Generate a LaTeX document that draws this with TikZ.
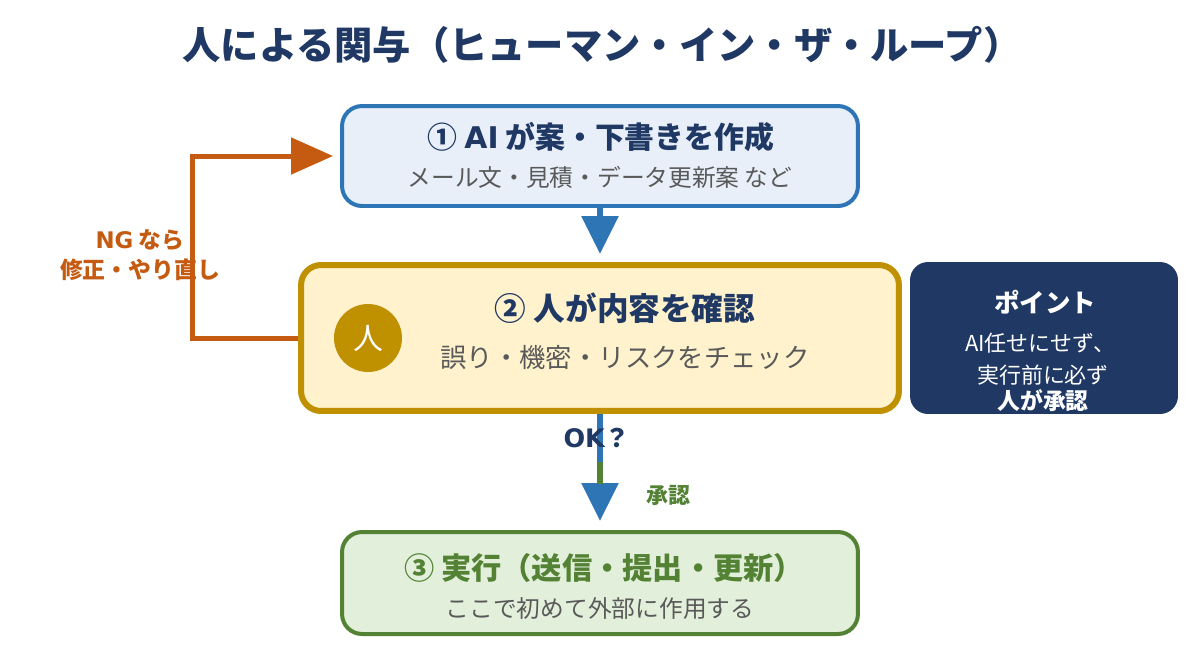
\documentclass[tikz,border=0pt]{standalone}
\usepackage{fontspec}
\setmainfont{Noto Sans CJK JP}
\newfontfamily\latinfont{DejaVu Sans}
\usetikzlibrary{arrows.meta}
\definecolor{navy}{HTML}{1F3864}
\definecolor{aiblue}{HTML}{2E75B6}
\definecolor{aifill}{HTML}{E8EFF9}
\definecolor{gold}{HTML}{BF9000}
\definecolor{goldfill}{HTML}{FFF2CC}
\definecolor{okgreen}{HTML}{548235}
\definecolor{greenfill}{HTML}{E2EFDA}
\definecolor{ngorange}{HTML}{C55A11}
\definecolor{textgray}{HTML}{595959}

\begin{document}
\begin{tikzpicture}[x=0.02cm, y=-0.02cm,
    box/.style={draw, rounded corners=0.4cm, inner sep=0pt},
    flow/.style={line width=0.12cm, -{Triangle[width=0.72cm, length=0.76cm]}}]
    \useasboundingbox (0,0) rectangle (1200,664);
    \node[navy, font=\fontsize{21.8}{24}\selectfont\bfseries](title) at (602,45){人による関与（ヒューマン・イン・ザ・ループ）};
    \node[box, draw=aiblue, fill=aifill, line width=0.08cm, minimum width=10.32cm, minimum height=2cm](ai) at (600,156){};
    \node[navy, font=\fontsize{17}{18}\selectfont\bfseries](aihead) at (601,137){① {\latinfont AI} が案・下書きを作成};
    \node[textgray, font=\fontsize{13.5}{16}\selectfont](aisub) at (600,177){メール文・見積・データ更新案 など};
    \node[box, draw=gold, fill=goldfill, line width=0.12cm, minimum width=11.96cm, minimum height=2.92cm](check) at (600,338){};
    \node[circle, fill=gold, text=white, minimum size=1.36cm, font=\fontsize{17}{17}\selectfont](person) at (368,338){人};
    \node[navy, font=\fontsize{18}{20}\selectfont\bfseries](checkhead) at (625,308){② 人が内容を確認};
    \node[textgray, font=\fontsize{15}{18}\selectfont](checksub) at (625,358){誤り・機密・リスクをチェック};
    \node[box, fill=navy, draw=none, rounded corners=0.36cm, minimum width=5.36cm, minimum height=3.04cm](point) at (1044,338){};
    \node[white, font=\fontsize{14.5}{16}\selectfont\bfseries](pointhead) at (1045,302){ポイント};
    \node[white, font=\fontsize{12.5}{14}\selectfont](pointa) at (1040,343){AI任せにせず、};
    \node[white, font=\fontsize{12.5}{14}\selectfont](pointb) at (1043,375){実行前に必ず};
    \node[white, font=\fontsize{13}{14}\selectfont\bfseries](pointc) at (1043,401){人が承認};
    \node[box, draw=okgreen, fill=greenfill, line width=0.08cm, minimum width=10.32cm, minimum height=2.04cm](run) at (600,583){};
    \node[okgreen, font=\fontsize{17.2}{18}\selectfont\bfseries](runhead) at (604,568){③ 実行（送信・提出・更新）};
    \node[textgray, font=\fontsize{13.5}{16}\selectfont](runsub) at (600,609){ここで初めて外部に作用する};
    \draw[flow, aiblue, shorten >=0.16cm](ai.south)--(check.north);
    \coordinate(ok) at (600,462);
    \coordinate(head) at (600,484);
    \draw[flow, aiblue, shorten >=0.18cm](check.south)--(run.north);
    \draw[okgreen, line width=0.12cm](ok)--(head);
    \node[navy, font=\fontsize{14.5}{16}\selectfont\bfseries](oklabel) at (597,438){{\latinfont OK}？};
    \node[okgreen, font=\fontsize{12.5}{14}\selectfont\bfseries](yes) at (668,495){承認};
    \draw[ngorange, line width=0.1cm, -{Triangle[width=0.72cm, length=0.84cm]}, shorten >=0.14cm](check.west)--++(-106,0)|-(ai.west);
    \node[ngorange, font=\fontsize{13}{17}\selectfont\bfseries, align=center](ng) at (140,255){{\latinfont NG} なら\\修正・やり直し};
\end{tikzpicture}
\end{document}
